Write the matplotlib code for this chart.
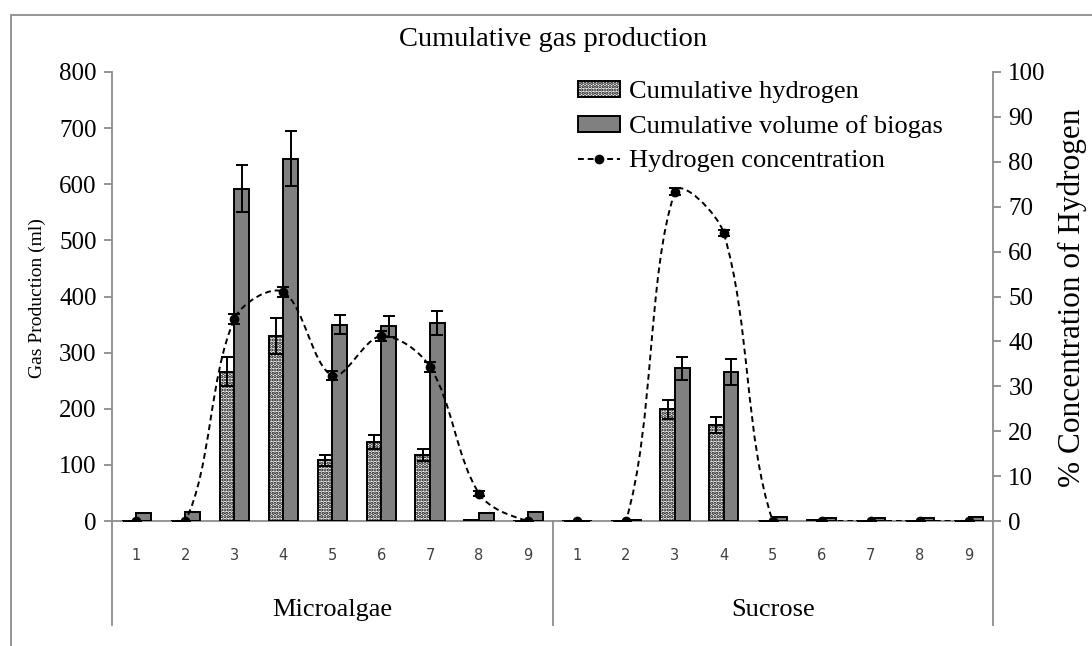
import matplotlib
matplotlib.use("Agg")
import matplotlib.pyplot as plt
import numpy as np
from matplotlib.lines import Line2D
from matplotlib.patches import Patch, PathPatch, Rectangle
from matplotlib.path import Path

# data
groups = ["Microalgae", "Sucrose"]
days = ["1", "2", "3", "4", "5", "6", "7", "8", "9"]

hydrogen_m = [0, 0, 266, 330, 108, 141, 118, 1, 0]
hydrogen_m_err = [0, 0, 26, 32, 9.5, 12, 10.5, 0, 0]
biogas_m = [14, 16, 592, 645, 350, 347, 353, 14, 16]
biogas_m_err = [0, 0, 42, 49, 17, 19, 21, 0, 0]
conc_m = [0, 0, 45.0, 51.0, 32.4, 41.2, 34.3, 6.1, 0]
conc_m_err = [0, 0, 1.1, 1.1, 1.0, 1.2, 1.2, 0.5, 0]

hydrogen_s = [0, 0, 199, 171, 0, 1, 0, 0, 0]
hydrogen_s_err = [0, 0, 17, 14, 0, 0, 0, 0, 0]
biogas_s = [0, 1, 272, 266, 8, 6, 5, 5, 7]
biogas_s_err = [0, 0, 20, 23, 0, 0, 0, 0, 0]
conc_s = [0, 0, 73.3, 64.1, 0, 0, 0, 0, 0]
conc_s_err = [0, 0, 0.8, 0.6, 0, 0, 0, 0, 0]

hydrogen = np.array(hydrogen_m + hydrogen_s, dtype=float)
hydrogen_err = np.array(hydrogen_m_err + hydrogen_s_err, dtype=float)
biogas = np.array(biogas_m + biogas_s, dtype=float)
biogas_err = np.array(biogas_m_err + biogas_s_err, dtype=float)
conc = np.array(conc_m + conc_s, dtype=float)
conc_err = np.array(conc_m_err + conc_s_err, dtype=float)
x = np.arange(len(hydrogen))

SERIF = "Liberation Serif"
GRAY = "#8c8c8c"
FS = 18
HATCH = "....."

plt.rcParams["hatch.color"] = "black"
plt.rcParams["hatch.linewidth"] = 1.6

W, H = 1092, 646
fig = plt.figure(figsize=(W / 100, H / 100), dpi=100)
left, right, top, bottom = 112, 993, 72, 521
ax = fig.add_axes([left / W, 1 - bottom / H, (right - left) / W, (bottom - top) / H])
ax2 = ax.twinx()

# outer chart frame
fig.add_artist(Rectangle((11 / W, -0.1), 1.2, 1 - 15 / H + 0.1, transform=fig.transFigure,
                         fill=False, edgecolor=GRAY, linewidth=1.3))

bw = 0.3
ax.bar(x - bw / 2, hydrogen, bw, color="white", edgecolor="black", linewidth=1.4,
       hatch=HATCH, zorder=2)
ax.bar(x + bw / 2, biogas, bw, color="#808080", edgecolor="black", linewidth=1.4, zorder=2)
ax.errorbar(x - bw / 2, hydrogen, yerr=hydrogen_err, fmt="none", ecolor="black",
            elinewidth=1.4, capsize=4.2, capthick=1.4, zorder=3)
ax.errorbar(x + bw / 2, biogas, yerr=biogas_err, fmt="none", ecolor="black",
            elinewidth=1.4, capsize=4.2, capthick=1.4, zorder=3)

ax.set_xlim(-0.5, len(x) - 0.5)
ax.set_ylim(0, 800)
ax.set_yticks(range(0, 801, 100))
ax2.set_ylim(0, 100)
ax2.set_yticks(range(0, 101, 10))

# smoothed line like a spreadsheet "smooth line" (bezier through the points)
sx = (right - left) / len(x)
sy = (bottom - top) / 100.0
pts = np.column_stack([x, conc])
n = len(pts)


def seg_len(a, b):
    return np.hypot((b[0] - a[0]) * sx, (b[1] - a[1]) * sy)


verts = [pts[0]]
codes = [Path.MOVETO]
for i in range(n - 1):
    p0 = pts[max(i - 1, 0)]
    p1 = pts[i]
    p2 = pts[i + 1]
    p3 = pts[min(i + 2, n - 1)]
    d01, d12, d23 = seg_len(p0, p1), seg_len(p1, p2), seg_len(p2, p3)
    f1 = d12 / (d01 + d12) / 3 if d01 + d12 > 0 else 0
    f2 = d12 / (d12 + d23) / 3 if d12 + d23 > 0 else 0
    c1 = p1 + (p2 - p0) * f1
    c2 = p2 - (p3 - p1) * f2
    verts += [c1, c2, p2]
    codes += [Path.CURVE4] * 3
ax2.add_patch(PathPatch(Path(verts, codes), fill=False, edgecolor="black", linewidth=1.4,
                        linestyle=(0, (3, 2)), zorder=4))
ax2.errorbar(x, conc, yerr=conc_err, fmt="o", color="black", ms=6, elinewidth=1.4,
             capsize=4.2, capthick=1.4, zorder=5)

for a in (ax, ax2):
    for s in a.spines.values():
        s.set_visible(False)

ax.tick_params(axis="y", direction="out", length=6, width=1.3, color=GRAY, pad=5,
               labelsize=FS)
ax2.tick_params(axis="y", direction="out", length=6, width=1.3, color=GRAY, pad=5,
                labelsize=FS)
for lab in ax.get_yticklabels() + ax2.get_yticklabels():
    lab.set_fontfamily(SERIF)

ax.set_xticks(x)
ax.set_xticklabels(days * 2, fontsize=10.5, color="#404040", family="DejaVu Sans")
ax.tick_params(axis="x", length=0, pad=19.5)

# axis lines, base line and group divider
ext = -(625 - bottom) / (bottom - top)
ax.plot([0, 0], [1, ext], transform=ax.transAxes, color=GRAY, lw=1.3, clip_on=False)
ax.plot([1, 1], [1, ext], transform=ax.transAxes, color=GRAY, lw=1.3, clip_on=False)
ax.plot([0, 1], [0, 0], transform=ax.transAxes, color=GRAY, lw=1.3, clip_on=False, zorder=1)
ax.plot([8.5, 8.5], [0, ext], transform=ax.get_xaxis_transform(), color=GRAY, lw=1.3,
        clip_on=False)
for gi, g in enumerate(groups):
    ax.text(4 + 9 * gi, -(610 - bottom) / (bottom - top), g, transform=ax.get_xaxis_transform(),
            ha="center", va="center", fontsize=19, family=SERIF)

fig.text(37 / W, 1 - 298 / H, "Gas Production (ml)", rotation=90, ha="center", va="center",
         fontsize=14, family=SERIF)
fig.text(1072 / W, 1 - 298 / H, "% Concentration of Hydrogen", rotation=90, ha="center",
         va="center", fontsize=22.5, family=SERIF)
fig.text(553 / W, 1 - 40 / H, "Cumulative gas production", ha="center", va="center",
         fontsize=20.5, family=SERIF)

handles = [
    Patch(facecolor="white", edgecolor="black", hatch=HATCH, linewidth=1.4),
    Patch(facecolor="#808080", edgecolor="black", linewidth=1.4),
    Line2D([], [], color="black", ls=(0, (3, 2)), lw=1.4, marker="o", ms=6, markevery=[0]),
]
labels = ["Cumulative hydrogen", "Cumulative volume of biogas", "Hydrogen concentration"]
ax2.legend(handles, labels, loc="upper left", bbox_to_anchor=(578 / W, 1 - 81 / H),
           bbox_transform=fig.transFigure, frameon=False, prop={"family": SERIF, "size": 19},
           borderpad=0, borderaxespad=0, handlelength=1.6, handleheight=0.55,
           handletextpad=0.35, labelspacing=0.45, numpoints=1)

fig.savefig("out.png", dpi=100)
